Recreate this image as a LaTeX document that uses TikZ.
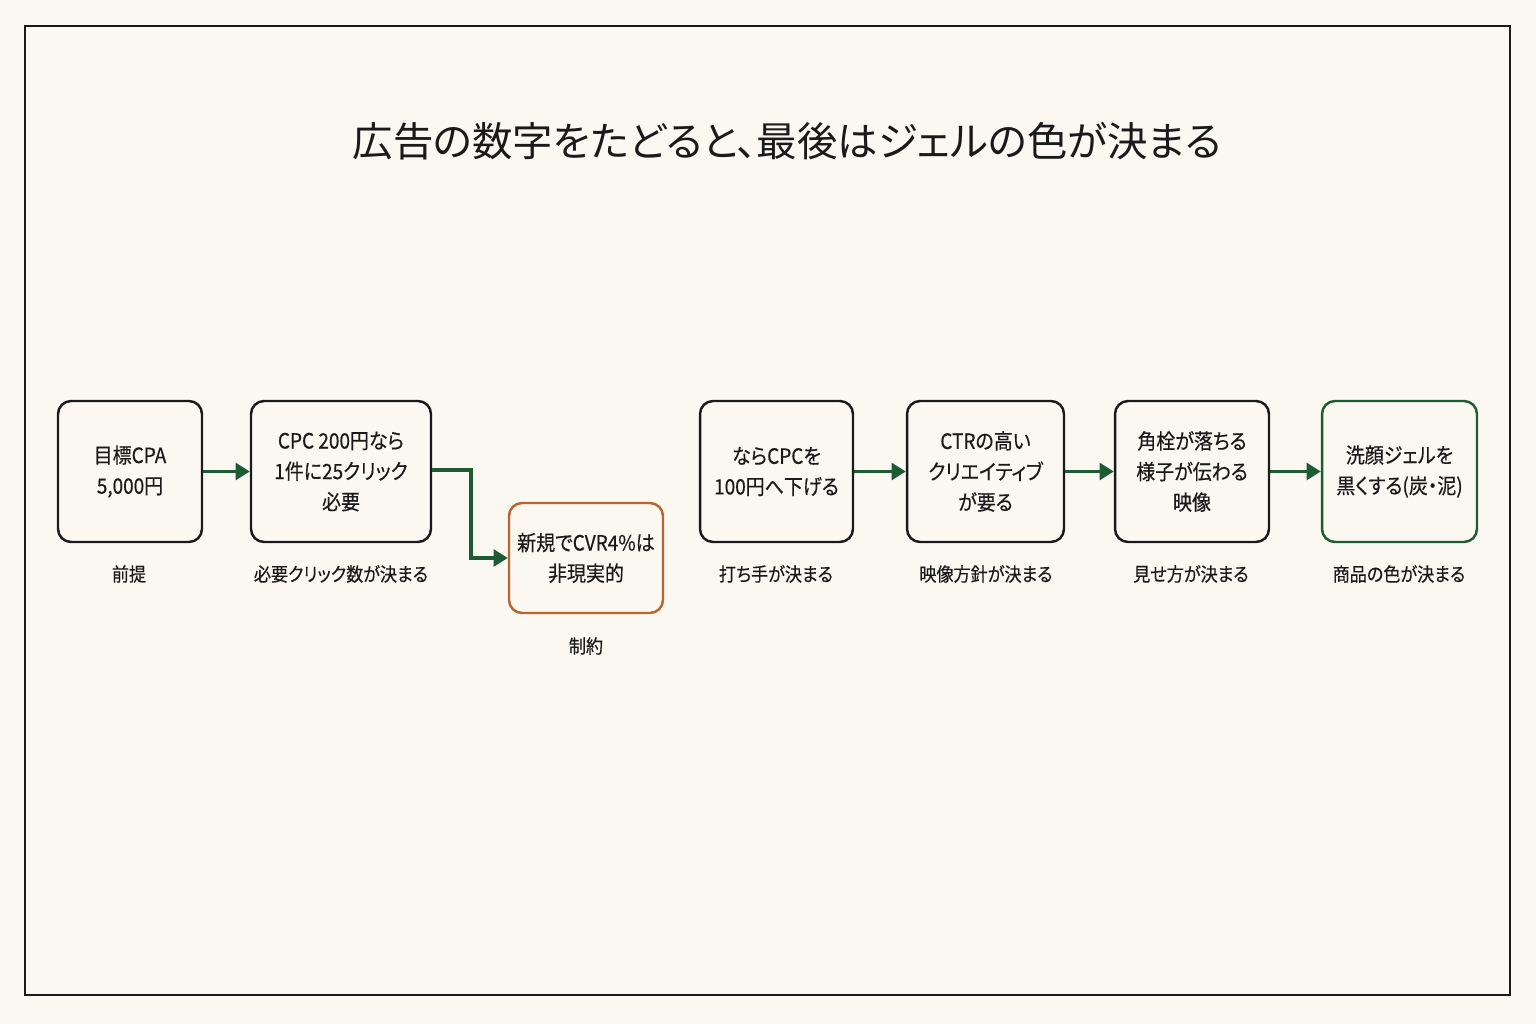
\documentclass[tikz,border=0pt]{standalone}
\usepackage{fontspec}
\setmainfont[RawFeature=+palt]{Noto Sans CJK JP}
\newfontfamily\condfont[RawFeature=+palt, FakeStretch=0.9, FakeBold=0.4]{Noto Sans CJK JP}
\usetikzlibrary{arrows.meta}
\definecolor{bg}{HTML}{FBF8F1}
\definecolor{dgreen}{HTML}{1E5B34}
\definecolor{rust}{HTML}{B8652F}
\definecolor{ink}{HTML}{1A1A1A}
\tikzset{
  stepbox/.style={draw=ink, line width=1.4pt, rounded corners=0.26cm, align=center,
    font=\condfont\fontsize{12}{17.4}\selectfont, text=ink, inner sep=0pt},
  capt/.style={font=\condfont\fontsize{10.8}{14}\selectfont, text=ink},
  conn/.style={draw=dgreen, line width=1.8pt, -{Triangle[length=8pt,width=9.5pt]}}
}
\begin{document}
\begin{tikzpicture}[x=0.02cm,y=-0.02cm]
\fill[bg] (0,0) rectangle (1536,1024);
\useasboundingbox (0,0) rectangle (1536,1024);
\draw[ink, line width=1.4pt] (25,26) rectangle (1510,995);
\node[font=\fontsize{23}{28}\selectfont, text=ink] (title) at (787,141) {広告の数字をたどると、最後はジェルの色が決まる};

\node[stepbox, minimum width=2.88cm, minimum height=2.82cm] (b1) at (130,471.5) {目標CPA\\5,000円};
\node[stepbox, minimum width=3.6cm, minimum height=2.82cm] (b2) at (341,471.5) {CPC 200円なら\\1件に25クリック\\必要};
\node[stepbox, draw=rust, minimum width=3.08cm, minimum height=2.2cm] (b3) at (586,558) {新規でCVR4\%は\\非現実的};
\node[stepbox, minimum width=3.06cm, minimum height=2.82cm] (b4) at (776.5,471.5) {ならCPCを\\100円へ下げる};
\node[stepbox, minimum width=3.14cm, minimum height=2.82cm] (b5) at (985.5,471.5) {CTRの高い\\クリエイティブ\\が要る};
\node[stepbox, minimum width=3.08cm, minimum height=2.82cm] (b6) at (1192,471.5) {角栓が落ちる\\様子が伝わる\\映像};
\node[stepbox, draw=dgreen, minimum width=3.1cm, minimum height=2.82cm] (b7) at (1399.5,471.5) {洗顔ジェルを\\黒くする(炭・泥)};

\node[capt] (c1) at (129,574) {前提};
\node[capt] (c2) at (341,574) {必要クリック数が決まる};
\node[capt] (c3) at (586,646) {制約};
\node[capt] (c4) at (776,574) {打ち手が決まる};
\node[capt] (c5) at (986,574) {映像方針が決まる};
\node[capt] (c6) at (1191,574) {見せ方が決まる};
\node[capt] (c7) at (1399,574) {商品の色が決まる};

\coordinate (k1) at (471,470);
\draw[conn] (b1.east) -- (b2.west);
\draw[conn] (b2.east |- k1) -- (k1) |- (b3.west);
\draw[conn] (b4.east) -- (b5.west);
\draw[conn] (b5.east) -- (b6.west);
\draw[conn] (b6.east) -- (b7.west);
\end{tikzpicture}
\end{document}
